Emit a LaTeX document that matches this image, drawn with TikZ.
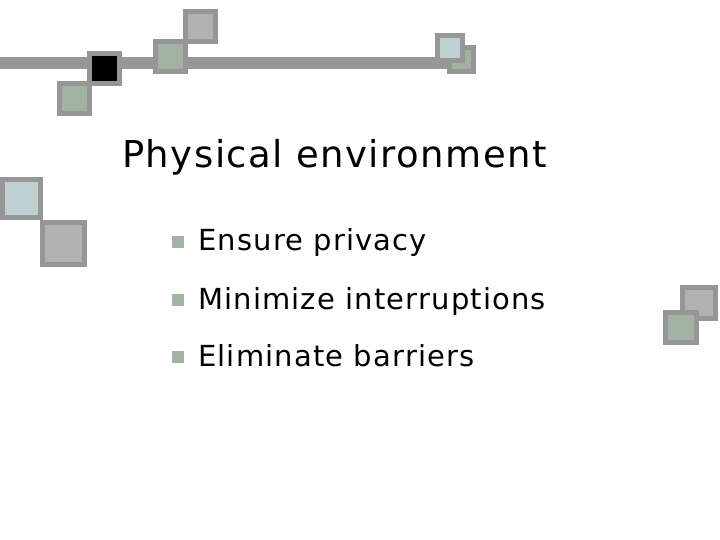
\documentclass[tikz,border=0pt]{standalone}
\usepackage{fontspec}
\setmainfont{DejaVu Sans}[LetterSpace=4]
\definecolor{frm}{HTML}{969696}
\definecolor{sgreen}{HTML}{A3B3A3}
\definecolor{sgray}{HTML}{B2B2B2}
\definecolor{sblue}{HTML}{C0D0D0}
\definecolor{bul}{HTML}{A3B3A3}
\tikzset{sq/.style={draw=frm,line width=5pt}}
\begin{document}
\begin{tikzpicture}[x=1pt,y=-1pt]
\useasboundingbox (0,0) rectangle (720,540);
\fill[frm] (0,57) rectangle (465,69);
\filldraw[sq,fill=sgreen] (59.5,83.5) rectangle (89.5,113.5);
\filldraw[sq,fill=black] (89.5,53.5) rectangle (119.5,83.5);
\filldraw[sq,fill=sgray] (185.5,11.5) rectangle (215.5,41.5);
\filldraw[sq,fill=sgreen] (155.5,41.5) rectangle (185.5,71.5);
\filldraw[sq,fill=sgreen] (449.5,47.5) rectangle (473.5,71.5);
\filldraw[sq,fill=sblue] (437.5,35.5) rectangle (462.5,60.5);
\filldraw[sq,fill=sblue] (2.5,179.5) rectangle (40.5,217.5);
\filldraw[sq,fill=sgray] (42.5,222.5) rectangle (84.5,264.5);
\filldraw[sq,fill=sgray] (682.5,287.5) rectangle (715.5,318.5);
\filldraw[sq,fill=sgreen] (665.5,312.5) rectangle (696.5,342.5);
\node[anchor=base west,inner sep=0,font=\fontsize{37}{40}\selectfont] (title) at (122,168) {Physical environment};
\foreach \y/\t [count=\i] in {251/Ensure privacy,309/Minimize interruptions,366/Eliminate barriers}{
  \fill[bul] (172,\y-15) rectangle (184,\y-3);
  \node[anchor=base west,inner sep=0,font=\fontsize{29}{32}\selectfont] (b\i) at (198,\y) {\t};
}
\end{tikzpicture}
\end{document}
